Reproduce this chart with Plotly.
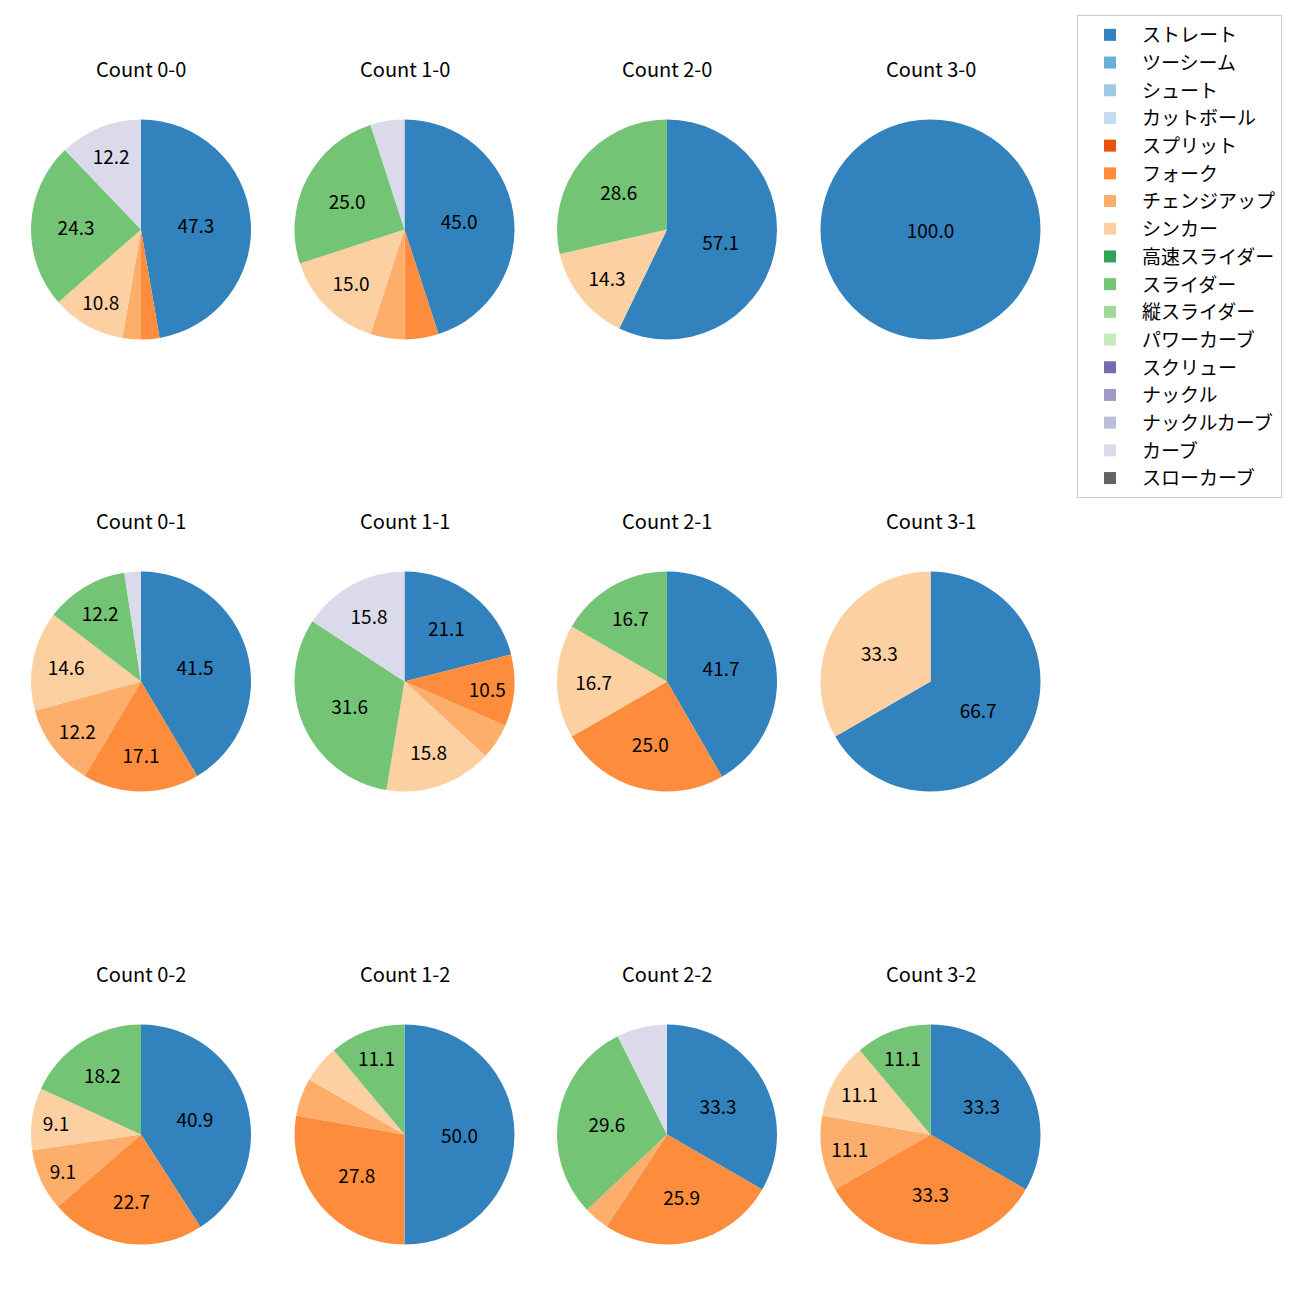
import plotly.graph_objects as go

pitch_types = ["ストレート", "ツーシーム", "シュート", "カットボール", "スプリット", "フォーク",
               "チェンジアップ", "シンカー", "高速スライダー", "スライダー", "縦スライダー",
               "パワーカーブ", "スクリュー", "ナックル", "ナックルカーブ", "カーブ", "スローカーブ"]
colors = ["#3182bd", "#6baed6", "#9ecae1", "#c6dbef", "#e6550d", "#fd8d3c", "#fdae6b", "#fdd0a2",
          "#31a354", "#74c476", "#a1d99b", "#c7e9c0", "#756bb1", "#9e9ac8", "#bcbddc", "#dadaeb",
          "#636363"]

counts = ["0-0", "1-0", "2-0", "3-0",
          "0-1", "1-1", "2-1", "3-1",
          "0-2", "1-2", "2-2", "3-2"]

# pitch counts per ball-strike count, in pitch_types order
c_0_0 = [35, 0, 0, 0, 0, 2, 2, 8, 0, 18, 0, 0, 0, 0, 0, 9, 0]
c_1_0 = [9, 0, 0, 0, 0, 1, 1, 3, 0, 5, 0, 0, 0, 0, 0, 1, 0]
c_2_0 = [4, 0, 0, 0, 0, 0, 0, 1, 0, 2, 0, 0, 0, 0, 0, 0, 0]
c_3_0 = [1, 0, 0, 0, 0, 0, 0, 0, 0, 0, 0, 0, 0, 0, 0, 0, 0]
c_0_1 = [17, 0, 0, 0, 0, 7, 5, 6, 0, 5, 0, 0, 0, 0, 0, 1, 0]
c_1_1 = [4, 0, 0, 0, 0, 2, 1, 3, 0, 6, 0, 0, 0, 0, 0, 3, 0]
c_2_1 = [5, 0, 0, 0, 0, 3, 0, 2, 0, 2, 0, 0, 0, 0, 0, 0, 0]
c_3_1 = [2, 0, 0, 0, 0, 0, 0, 1, 0, 0, 0, 0, 0, 0, 0, 0, 0]
c_0_2 = [9, 0, 0, 0, 0, 5, 2, 2, 0, 4, 0, 0, 0, 0, 0, 0, 0]
c_1_2 = [9, 0, 0, 0, 0, 5, 1, 1, 0, 2, 0, 0, 0, 0, 0, 0, 0]
c_2_2 = [9, 0, 0, 0, 0, 7, 1, 0, 0, 8, 0, 0, 0, 0, 0, 2, 0]
c_3_2 = [3, 0, 0, 0, 0, 3, 1, 1, 0, 1, 0, 0, 0, 0, 0, 0, 0]

all_counts = [c_0_0, c_1_0, c_2_0, c_3_0, c_0_1, c_1_1, c_2_1, c_3_1, c_0_2, c_1_2, c_2_2, c_3_2]

W = H = 1300
OFF = 8  # page body margin offset
FONT = "Noto Sans CJK JP"
x_centers = [141, 404.5, 667, 930.5]
y_centers = [229.5, 681.5, 1134.5]
R = 110
label_min_pct = 8.0

fig = go.Figure()
annotations = []
for i, (name, vals) in enumerate(zip(counts, all_counts)):
    row, col = divmod(i, 4)
    cx, cy = x_centers[col] - OFF, y_centers[row] - OFF
    total = sum(vals)
    texts = []
    for v in vals:
        p = v / total * 100 if total else 0
        texts.append(f"{p:.1f}" if p >= label_min_pct else "")
    fig.add_trace(go.Pie(
        labels=pitch_types,
        values=vals,
        text=texts,
        textinfo="text",
        textposition="inside",
        insidetextorientation="horizontal",
        textfont=dict(family=FONT, size=19, color="#000000"),
        marker=dict(colors=colors, line=dict(color="#ffffff", width=0)),
        sort=False,
        direction="clockwise",
        rotation=0,
        domain=dict(x=[(cx - R) / W, (cx + R) / W], y=[1 - (cy + R) / H, 1 - (cy - R) / H]),
        hoverinfo="label+percent",
        showlegend=(i == 0),
        name=f"Count {name}",
    ))
    annotations.append(dict(
        text=f"Count {name}", x=cx / W, y=1 - (cy - 161) / H, xref="paper", yref="paper",
        xanchor="center", yanchor="middle", showarrow=False,
        font=dict(family=FONT, size=20, color="#000000"),
    ))

fig.update_layout(
    width=W, height=H, autosize=False,
    margin=dict(l=0, r=0, t=0, b=0),
    paper_bgcolor="#ffffff", plot_bgcolor="#ffffff",
    font=dict(family=FONT, size=19, color="#000000"),
    annotations=annotations,
    legend=dict(
        x=(1077 - OFF) / W, y=1 - (15 - OFF) / H, xanchor="left", yanchor="top",
        bordercolor="#cccccc", borderwidth=1, bgcolor="rgba(255,255,255,0.8)",
        font=dict(family=FONT, size=19, color="#000000"),
        traceorder="normal", itemwidth=54,
    ),
)

fig.write_html("out.html")
